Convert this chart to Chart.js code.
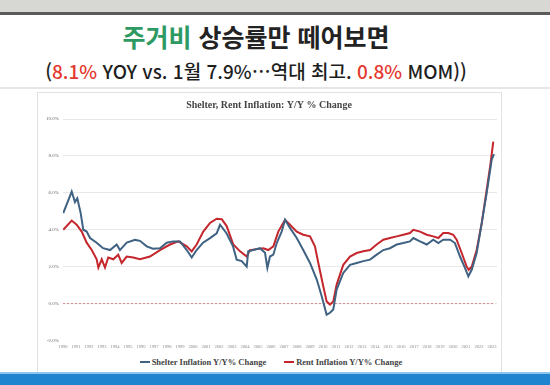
<!DOCTYPE html>
<html lang="ko">
<head>
<meta charset="utf-8">
<script src="https://cdn.jsdelivr.net/npm/chart.js@4"></script>
<style>
  html, body { margin: 0; padding: 0; }
  body { width: 550px; height: 385px; position: relative; overflow: hidden; background: #ffffff; font-family: "Noto Sans CJK KR", sans-serif; }
  #topband { position: absolute; left: 0; top: 0; width: 550px; height: 12px; background: #d7d7d3; }
  #topline { position: absolute; left: 0; top: 12px; width: 550px; height: 3px; background: #5a5a5a; }
  #title { position: absolute; left: 0; top: 20px; width: 512px; text-align: center; font-size: 25px; font-weight: 700; color: #232323; line-height: 32px; }
  #title .g { color: #2e9a63; }
  #subtitle { position: absolute; left: 0; top: 57px; width: 512px; text-align: center; font-size: 19px; font-weight: 500; color: #1e1e1e; line-height: 28px; }
  #subtitle .r { color: #e3392f; }
  #sep { position: absolute; left: 0; top: 87px; width: 550px; height: 2px; background: #e6e6e6; }
  #frame { position: absolute; left: 37px; top: 92px; width: 463px; height: 280px; border: 1px solid #e2e2e2; background: #fff; }
  #graf { position: absolute; left: 38px; top: 93px; }
  #legenda { position: absolute; left: 40px; top: 356px; width: 462px; height: 12px; display: flex; justify-content: center; gap: 18px;
    font-family: "Liberation Serif", serif; font-weight: bold; font-size: 8.5px; color: #444; line-height: 12px; }
  #legenda span.item { display: flex; align-items: center; }
  #legenda span.traco { display: inline-block; width: 10px; height: 2px; margin-right: 2px; }
  #bottomband { position: absolute; left: 0; top: 372px; width: 550px; height: 13px; background: #1f84cf; border-top: 2px solid #8ec5ec; box-sizing: border-box; }
</style>
</head>
<body>
<div id="topband"></div>
<div id="topline"></div>
<div id="title"><span class="g">주거비</span> 상승률만 떼어보면</div>
<div id="subtitle">(<span class="r">8.1%</span> YOY vs. 1월 7.9%…역대 최고. <span class="r">0.8%</span> MOM))</div>
<div id="sep"></div>
<div id="frame"></div>
<canvas id="graf" width="462" height="262"></canvas>
<div id="legenda"></div>
<div id="bottomband"></div>
<script>
// Shelter (Y/Y %), leitura do gráfico
const anosShelter = [1990.02, 1990.67, 1990.92, 1991.10, 1991.36, 1991.56, 1991.82, 1992.08, 1992.59, 1993.08,
  1993.62, 1994.13, 1994.38, 1994.90, 1995.54, 1995.92, 1996.44, 1996.92, 1997.46, 1997.98,
  1998.46, 1999.00, 1999.52, 1999.90, 2000.28, 2000.77, 2001.31, 2001.82, 2002.08, 2002.59,
  2003.08, 2003.36, 2003.75, 2004.13, 2004.25, 2004.64, 2005.15, 2005.54, 2005.72, 2005.92,
  2006.18, 2006.44, 2006.82, 2007.08, 2007.46, 2007.98, 2008.48, 2009.00, 2009.52, 2009.90,
  2010.28, 2010.54, 2010.79, 2011.05, 2011.56, 2012.08, 2012.59, 2013.10, 2013.62, 2014.13,
  2014.64, 2015.15, 2015.67, 2016.18, 2016.69, 2016.95, 2017.46, 2017.98, 2018.48, 2018.87,
  2019.25, 2019.77, 2020.15, 2020.54, 2020.92, 2021.18, 2021.44, 2021.82, 2022.21, 2022.59,
  2022.98, 2023.15];
const shelter = [4.9, 6.07, 5.5, 5.7, 4.9, 4.0, 3.9, 3.55, 3.3, 3.0,
  2.9, 3.2, 2.9, 3.3, 3.45, 3.4, 3.1, 2.97, 3.0, 3.3,
  3.37, 3.37, 2.9, 2.5, 2.9, 3.3, 3.55, 3.8, 4.27, 3.8,
  3.1, 2.38, 2.3, 2.0, 2.83, 2.9, 3.0, 2.75, 1.93, 2.55,
  2.65, 3.28, 3.9, 4.54, 4.1, 3.55, 2.9, 2.2, 1.3, 0.4,
  -0.6, -0.5, -0.32, 0.76, 1.66, 2.1, 2.2, 2.3, 2.38, 2.65,
  2.9, 3.0, 3.2, 3.28, 3.37, 3.55, 3.37, 3.2, 3.46, 3.28,
  3.46, 3.46, 3.28, 2.55, 1.93, 1.48, 1.83, 2.74, 4.36, 5.98,
  7.8, 8.1];

// Rent (Y/Y %)
const anosRent = [1990.02, 1990.67, 1991.05, 1991.44, 1991.82, 1992.21, 1992.59, 1992.72, 1992.98, 1993.23,
  1993.48, 1993.87, 1994.25, 1994.51, 1994.90, 1995.41, 1995.92, 1996.69, 1997.46, 1998.23,
  1998.87, 1999.52, 1999.90, 2000.28, 2000.79, 2001.31, 2001.82, 2002.21, 2002.59, 2003.10,
  2003.62, 2004.13, 2004.38, 2004.90, 2005.41, 2005.79, 2006.18, 2006.56, 2007.08, 2007.46,
  2007.98, 2008.48, 2009.00, 2009.38, 2009.64, 2010.02, 2010.28, 2010.54, 2010.79, 2011.05,
  2011.56, 2012.08, 2012.59, 2013.10, 2013.62, 2014.13, 2014.64, 2015.15, 2015.67, 2016.18,
  2016.69, 2016.95, 2017.46, 2017.98, 2018.48, 2018.87, 2019.25, 2019.64, 2020.02, 2020.28,
  2020.67, 2021.05, 2021.21, 2021.44, 2021.82, 2022.21, 2022.59, 2022.85, 2023.10];
const rent = [4.0, 4.5, 4.27, 3.9, 3.3, 2.9, 2.4, 1.95, 2.4, 1.95,
  2.5, 2.4, 2.65, 2.2, 2.55, 2.5, 2.4, 2.55, 2.9, 3.2,
  3.37, 3.1, 2.83, 3.2, 3.9, 4.37, 4.6, 4.57, 4.2, 3.2,
  2.83, 2.55, 2.9, 2.95, 3.0, 2.9, 3.1, 3.9, 4.54, 4.27,
  3.9, 3.73, 3.64, 3.1, 2.2, 0.94, 0.12, -0.05, 0.12, 1.03,
  2.1, 2.55, 2.74, 2.83, 2.9, 3.2, 3.46, 3.55, 3.64, 3.73,
  3.82, 4.0, 3.9, 3.73, 3.64, 3.55, 3.82, 3.82, 3.73, 3.46,
  2.74, 2.0, 1.83, 2.0, 2.9, 4.36, 6.16, 7.4, 8.77];

// linha tracejada do zero
const anosZero = [1990, 2023.1];
const zero = [0, 0];

const pontos = (xs, ys) => xs.map((x, i) => ({ x: x, y: ys[i] }));

const ctx = document.getElementById("graf").getContext("2d");

const chart = new Chart(ctx, {
  type: "line",
  data: {
    datasets: [
      {
        label: "Shelter Inflation Y/Y% Change",
        data: pontos(anosShelter, shelter),
        borderColor: "#3f6282",
        borderWidth: 2,
        pointRadius: 0,
        tension: 0
      },
      {
        label: "Rent Inflation Y/Y% Change",
        data: pontos(anosRent, rent),
        borderColor: "#c4262c",
        borderWidth: 2,
        pointRadius: 0,
        tension: 0
      },
      {
        label: "zero",
        data: pontos(anosZero, zero),
        borderColor: "#d48a8a",
        borderWidth: 1,
        borderDash: [2, 2],
        pointRadius: 0
      }
    ]
  },
  options: {
    responsive: false,
    animation: false,
    layout: { padding: 0 },
    plugins: {
      title: {
        display: true,
        text: "Shelter, Rent Inflation: Y/Y % Change",
        color: "#444",
        font: { family: "Liberation Serif", size: 10, weight: "bold" },
        padding: { top: 6, bottom: 8 }
      },
      legend: { display: false },
      tooltip: { enabled: false }
    },
    scales: {
      x: {
        type: "linear",
        min: 1990,
        max: 2023.4,
        grid: { display: false, drawTicks: false, tickLength: 0 },
        border: { display: false },
        ticks: {
          stepSize: 1,
          includeBounds: false,
          autoSkip: false,
          maxRotation: 0,
          padding: 3.5,
          color: "#888",
          font: { family: "Liberation Serif", size: 4.5 },
          callback: v => String(v)
        },
        afterFit: scale => { scale.height = 14.5; }
      },
      y: {
        min: -2,
        max: 10,
        border: { display: false },
        grid: {
          drawTicks: false,
          color: c => (c.tick && c.tick.value === -2) ? "rgba(0,0,0,0)" : "#e8e8e8"
        },
        ticks: {
          stepSize: 2,
          padding: 4,
          color: "#666",
          font: { family: "Liberation Serif", size: 5 },
          callback: v => v.toFixed(1) + "%"
        },
        afterFit: scale => { scale.width = 25; }
      }
    }
  }
});

// legenda montada a partir dos datasets
const legenda = document.getElementById("legenda");
chart.data.datasets.slice(0, 2).forEach(ds => {
  const item = document.createElement("span");
  item.className = "item";
  const traco = document.createElement("span");
  traco.className = "traco";
  traco.style.background = ds.borderColor;
  item.appendChild(traco);
  item.appendChild(document.createTextNode(ds.label));
  legenda.appendChild(item);
});
</script>
</body>
</html>
